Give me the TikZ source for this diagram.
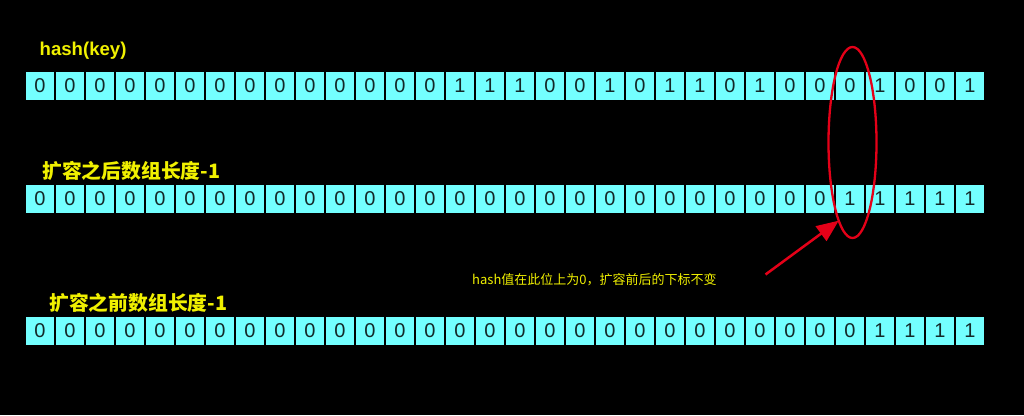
\documentclass[tikz,border=0pt]{standalone}
\usepackage{fontspec}
\setmainfont{Liberation Sans}
\newfontfamily\cjk{Noto Sans CJK SC}
\usetikzlibrary{shapes.geometric,arrows.meta}

\definecolor{cellcyan}{RGB}{115,255,255}
\definecolor{bitgray}{RGB}{20,40,40}
\definecolor{labelyellow}{RGB}{240,240,0}
\definecolor{markred}{RGB}{228,0,24}

\tikzset{
  bitcell/.style = {fill = cellcyan, minimum width = 28pt, minimum height = 28pt,
    inner sep = 0pt, text = bitgray, font = \fontsize{20}{20}\selectfont},
  rowlabel/.style = {anchor = west, inner sep = 0pt, text = labelyellow,
    font = \cjk\bfseries\fontsize{19.8}{19.8}\selectfont},
}

\begin{document}
\begin{tikzpicture}[x = 1pt, y = -1pt]
\fill[black] (0, 0) rectangle (1024, 415);
\useasboundingbox (0, 0) rectangle (1024, 415);
% hash(key)
\node (hashlabel) at (39.5, 55) [anchor = base west, inner sep = 0pt, text = labelyellow,
  font = \bfseries\fontsize{18.6}{18.6}\selectfont] {hash(key)};
\foreach \b [count = \i from 0] in {0,0,0,0,0,0,0,0,0,0,0,0,0,0,1,1,1,0,0,1,0,1,1,0,1,0,0,0,1,0,0,1}
  \node (key\i) at (40 + 30*\i, 85.5) [bitcell] {\b};
% length - 1 after resize
\node (afterlabel) at (42, 170.5) [rowlabel] {扩容之后数组长度-1};
\foreach \b [count = \i from 0] in {0,0,0,0,0,0,0,0,0,0,0,0,0,0,0,0,0,0,0,0,0,0,0,0,0,0,0,1,1,1,1,1}
  \node (after\i) at (40 + 30*\i, 199) [bitcell] {\b};
% length - 1 before resize
\node (beforelabel) at (49, 303) [rowlabel] {扩容之前数组长度-1};
\foreach \b [count = \i from 0] in {0,0,0,0,0,0,0,0,0,0,0,0,0,0,0,0,0,0,0,0,0,0,0,0,0,0,0,0,1,1,1,1}
  \node (before\i) at (40 + 30*\i, 331) [bitcell] {\b};
% the marked bit
\node (ring) at (852.5, 142.5) [draw = markred, line width = 2.3pt, ellipse,
  minimum width = 48pt, minimum height = 191pt, inner sep = 0pt, outer sep = 0pt] {};
\node (note) at (472, 280) [anchor = west, inner sep = 0pt, text = labelyellow,
  font = \cjk\fontsize{13}{13}\selectfont] {hash值在此位上为0，扩容前后的下标不变};
\coordinate (tail) at (765.5, 274.5);
\draw [markred, line width = 2.5pt, -{Triangle[length = 22pt, width = 18pt]}] (tail) -- (ring.260);
\end{tikzpicture}
\end{document}
